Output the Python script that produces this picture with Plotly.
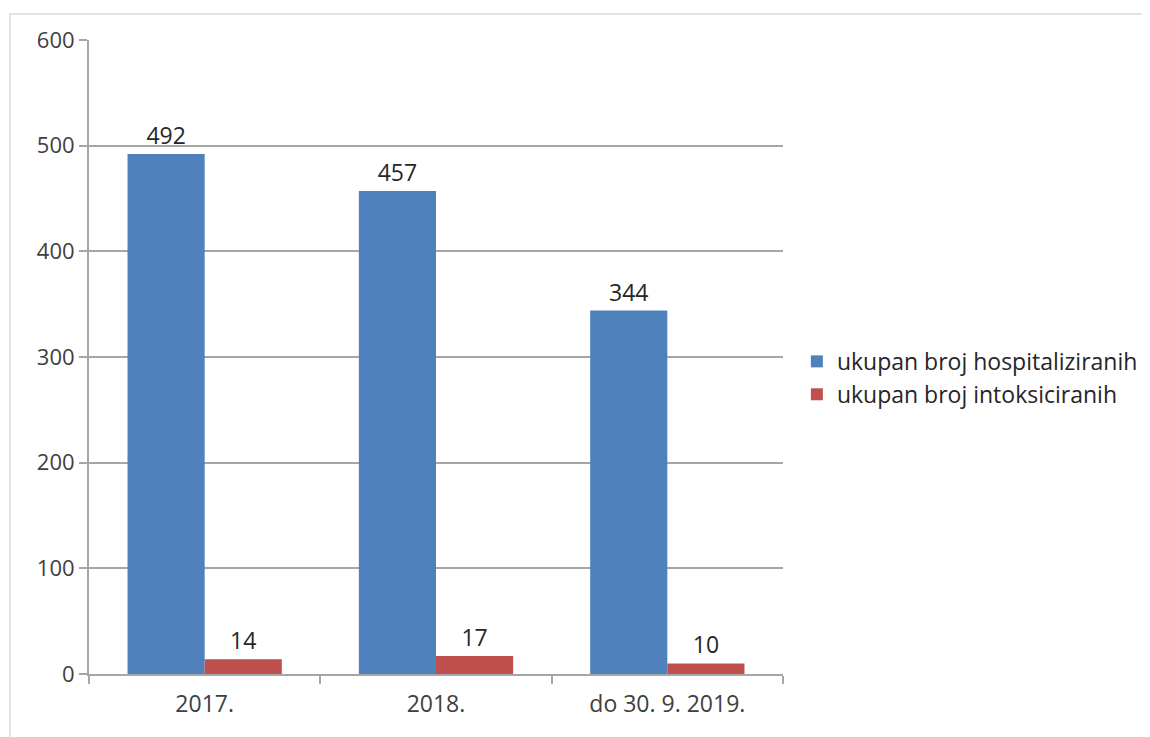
import plotly.graph_objects as go

categories = ["2017.", "2018.", "do 30. 9. 2019."]
hospitalizirani = [492, 457, 344]
intoksicirani = [14, 17, 10]

SERIES_COLORS = {
    "ukupan broj hospitaliziranih": "#4F81BD",
    "ukupan broj intoksiciranih": "#C0504D",
}

FONT = "Open Sans, Noto Sans, sans-serif"
TEXT_COLOR = "#404040"
LINE_COLOR = "#a6a6a6"

# page has an 8px body margin, so the figure is laid out from (8, 8)
L, T, R, B = 81, 32, 375, 71
W, H = 1150, 737
pw, ph = W - L - R, H - T - B

fig = go.Figure()
for i, (name, values) in enumerate(
    [
        ("ukupan broj hospitaliziranih", hospitalizirani),
        ("ukupan broj intoksiciranih", intoksicirani),
    ]
):
    fig.add_trace(
        go.Bar(
            x=categories,
            y=values,
            name=name,
            legendgroup=f"g{i}",
            marker=dict(color=SERIES_COLORS[name], line=dict(width=0)),
            text=[str(v) for v in values],
            textposition="outside",
            textfont=dict(size=23, color="#262626", family=FONT),
            cliponaxis=False,
        )
    )

fig.update_layout(
    width=W,
    height=H,
    barmode="group",
    bargap=0.333,
    bargroupgap=0,
    plot_bgcolor="white",
    paper_bgcolor="white",
    font=dict(family=FONT, size=23, color=TEXT_COLOR),
    margin=dict(l=L, r=R, t=T, b=B, autoexpand=False),
    legend=dict(
        x=1.02,
        y=0.467,
        xanchor="left",
        yanchor="middle",
        font=dict(size=23, color="#262626"),
        tracegroupgap=0,
        itemwidth=30,
        bgcolor="rgba(0,0,0,0)",
    ),
    shapes=[
        dict(
            type="rect",
            xref="paper",
            yref="paper",
            x0=(2 - L) / pw,
            x1=(W + 20 - L) / pw,
            y0=-(H + 20 - (H - B)) / ph,
            y1=1 + (T - 6) / ph,
            line=dict(color="#e3e3e3", width=2),
            fillcolor="rgba(0,0,0,0)",
            layer="below",
        )
    ],
)

fig.update_yaxes(
    range=[0, 600],
    dtick=100,
    showgrid=True,
    gridcolor=LINE_COLOR,
    gridwidth=2,
    showline=True,
    linecolor=LINE_COLOR,
    linewidth=2,
    ticks="outside",
    ticklen=8,
    tickcolor=LINE_COLOR,
    tickwidth=2,
    zeroline=False,
    tickfont=dict(size=22, color=TEXT_COLOR),
)
fig.update_xaxes(
    showline=True,
    linecolor=LINE_COLOR,
    linewidth=2,
    ticks="outside",
    tickson="boundaries",
    ticklen=8,
    tickcolor=LINE_COLOR,
    tickwidth=2,
    ticklabelstandoff=8,
    tickfont=dict(size=23, color=TEXT_COLOR),
)

fig.write_html("out.html")
